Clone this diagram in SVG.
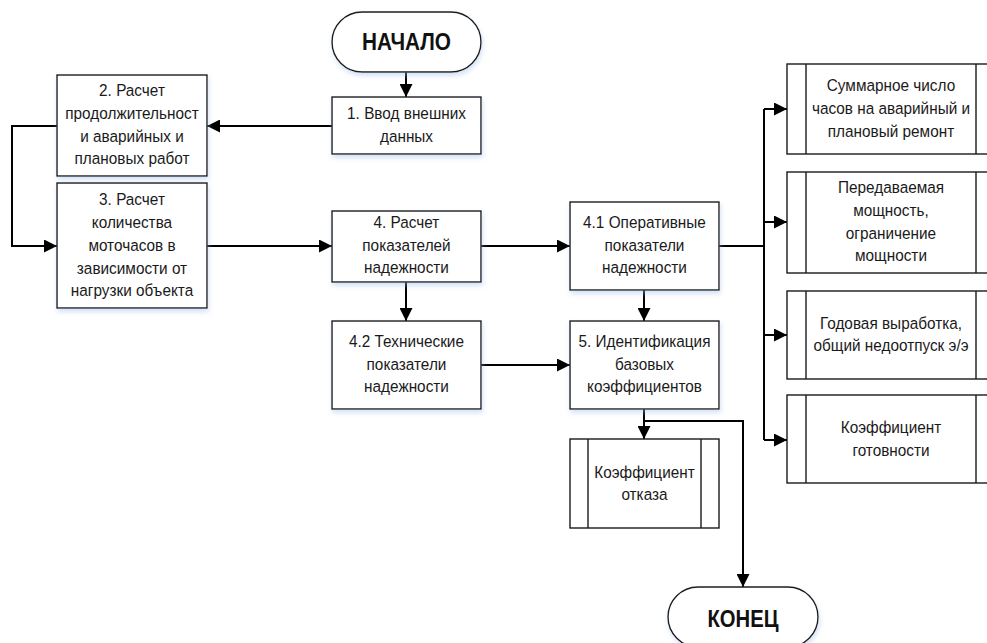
<svg xmlns="http://www.w3.org/2000/svg" width="987" height="643" viewBox="0 0 987 643">
  <defs>
    <style>
      .box { fill: #ffffff; stroke: #1a1a1a; stroke-width: 1.4; }
      .div { fill: none; stroke: #1a1a1a; stroke-width: 1.4; }
      .lbl { font-family: "Liberation Sans", Arial, sans-serif; font-size: 16.5px; fill: #1a1a1a; text-anchor: middle; }
      .term { font-family: "Liberation Sans", Arial, sans-serif; font-size: 24px; font-weight: bold; fill: #111111; text-anchor: middle; }
      .conn { fill: none; stroke: #000000; stroke-width: 2; }
    </style>
    <marker id="arrow" markerUnits="userSpaceOnUse" markerWidth="14" markerHeight="13" refX="13" refY="6.5" orient="auto">
      <path d="M0,0 L13,6.5 L0,13 Z" fill="#000000"/>
    </marker>
    <filter id="shadow" x="-10%" y="-10%" width="125%" height="135%">
      <feOffset in="SourceAlpha" dx="1" dy="3" result="off"/>
      <feGaussianBlur in="off" stdDeviation="2.5" result="blur"/>
      <feFlood flood-color="#9dbde6" flood-opacity="0.45"/>
      <feComposite in2="blur" operator="in" result="sh"/>
      <feMerge>
        <feMergeNode in="sh"/>
        <feMergeNode in="SourceGraphic"/>
      </feMerge>
    </filter>
  </defs>

  <rect width="987" height="643" fill="#ffffff"/>

  <!-- connectors -->
  <g id="connectors">
    <path class="conn" d="M406 72 V97" marker-end="url(#arrow)"/>
    <path class="conn" d="M332 126 H207" marker-end="url(#arrow)"/>
    <path class="conn" d="M57 126 H12 V246 H57" marker-end="url(#arrow)"/>
    <path class="conn" d="M207 246 H332" marker-end="url(#arrow)"/>
    <path class="conn" d="M406 282 V321" marker-end="url(#arrow)"/>
    <path class="conn" d="M481 246 H570" marker-end="url(#arrow)"/>
    <path class="conn" d="M644 290 V321" marker-end="url(#arrow)"/>
    <path class="conn" d="M481 365 H570" marker-end="url(#arrow)"/>
    <path class="conn" d="M644 409 V439" marker-end="url(#arrow)"/>
    <path class="conn" d="M644 421 H743 V587" marker-end="url(#arrow)"/>
    <path class="conn" d="M719 246 H764"/>
    <path class="conn" d="M764 109 V440"/>
    <path class="conn" d="M764 109 H787" marker-end="url(#arrow)"/>
    <path class="conn" d="M764 222 H787" marker-end="url(#arrow)"/>
    <path class="conn" d="M764 335 H787" marker-end="url(#arrow)"/>
    <path class="conn" d="M764 440 H787" marker-end="url(#arrow)"/>
  </g>

  <!-- start -->
  <g id="start">
    <rect class="box" x="332" y="12" width="149" height="60" rx="30" ry="30" filter="url(#shadow)"/>
    <text class="term" x="406.5" y="50" textLength="89" lengthAdjust="spacingAndGlyphs">НАЧАЛО</text>
  </g>

  <!-- step 1 -->
  <g id="n1">
    <rect class="box" x="332" y="97" width="149" height="57" filter="url(#shadow)"/>
    <g transform="matrix(0.93 0 0 1 28.455 0)">
      <text class="lbl" x="406.5" y="119.5">1. Ввод внешних</text>
      <text class="lbl" x="406.5" y="142">данных</text>
    </g>
  </g>

  <!-- step 2 -->
  <g id="n2">
    <rect class="box" x="57" y="75" width="150" height="101" filter="url(#shadow)"/>
    <g transform="matrix(0.93 0 0 1 9.24 0)">
      <text class="lbl" x="132" y="96.5">2. Расчет</text>
      <text class="lbl" x="132" y="119.5">продолжительност</text>
      <text class="lbl" x="132" y="142">и аварийных и</text>
      <text class="lbl" x="132" y="164.5">плановых работ</text>
    </g>
  </g>

  <!-- step 3 -->
  <g id="n3">
    <rect class="box" x="57" y="183" width="150" height="125" filter="url(#shadow)"/>
    <g transform="matrix(0.93 0 0 1 9.24 0)">
      <text class="lbl" x="132" y="205.5">3. Расчет</text>
      <text class="lbl" x="132" y="228.5">количества</text>
      <text class="lbl" x="132" y="251">моточасов в</text>
      <text class="lbl" x="132" y="274">зависимости от</text>
      <text class="lbl" x="132" y="296.5">нагрузки объекта</text>
    </g>
  </g>

  <!-- step 4 -->
  <g id="n4">
    <rect class="box" x="332" y="211" width="149" height="71" filter="url(#shadow)"/>
    <g transform="matrix(0.93 0 0 1 28.455 0)">
      <text class="lbl" x="406.5" y="228.5">4. Расчет</text>
      <text class="lbl" x="406.5" y="251.5">показателей</text>
      <text class="lbl" x="406.5" y="273.5">надежности</text>
    </g>
  </g>

  <!-- step 4.1 -->
  <g id="n41">
    <rect class="box" x="570" y="202" width="149" height="88" filter="url(#shadow)"/>
    <g transform="matrix(0.93 0 0 1 45.115 0)">
      <text class="lbl" x="644.5" y="228.5">4.1 Оперативные</text>
      <text class="lbl" x="644.5" y="251.5">показатели</text>
      <text class="lbl" x="644.5" y="273.5">надежности</text>
    </g>
  </g>

  <!-- step 4.2 -->
  <g id="n42">
    <rect class="box" x="332" y="321" width="149" height="88" filter="url(#shadow)"/>
    <g transform="matrix(0.93 0 0 1 28.455 0)">
      <text class="lbl" x="406.5" y="347.5">4.2 Технические</text>
      <text class="lbl" x="406.5" y="370.5">показатели</text>
      <text class="lbl" x="406.5" y="392.5">надежности</text>
    </g>
  </g>

  <!-- step 5 -->
  <g id="n5">
    <rect class="box" x="570" y="321" width="149" height="88" filter="url(#shadow)"/>
    <g transform="matrix(0.93 0 0 1 45.115 0)">
      <text class="lbl" x="644.5" y="347.5">5. Идентификация</text>
      <text class="lbl" x="644.5" y="370.5">базовых</text>
      <text class="lbl" x="644.5" y="392.5">коэффициентов</text>
    </g>
  </g>

  <!-- failure coefficient -->
  <g id="failure">
    <rect class="box" x="570" y="439" width="149" height="89"/>
    <path class="div" d="M588 439 V528 M701 439 V528"/>
    <g transform="matrix(0.93 0 0 1 45.115 0)">
      <text class="lbl" x="644.5" y="478">Коэффициент</text>
      <text class="lbl" x="644.5" y="500.5">отказа</text>
    </g>
  </g>

  <!-- operational outputs -->
  <g id="hours">
    <rect class="box" x="787" y="64" width="208" height="90"/>
    <path class="div" d="M806 64 V154 M976 64 V154"/>
    <g transform="matrix(0.93 0 0 1 62.37 0)">
      <text class="lbl" x="891" y="91.5">Суммарное число</text>
      <text class="lbl" x="891" y="114.5">часов на аварийный и</text>
      <text class="lbl" x="891" y="137">плановый ремонт</text>
    </g>
  </g>

  <g id="power">
    <rect class="box" x="787" y="172" width="208" height="101"/>
    <path class="div" d="M806 172 V273 M976 172 V273"/>
    <g transform="matrix(0.93 0 0 1 62.37 0)">
      <text class="lbl" x="891" y="193.5">Передаваемая</text>
      <text class="lbl" x="891" y="216.5">мощность,</text>
      <text class="lbl" x="891" y="239">ограничение</text>
      <text class="lbl" x="891" y="261.5">мощности</text>
    </g>
  </g>

  <g id="output">
    <rect class="box" x="787" y="291" width="208" height="88"/>
    <path class="div" d="M806 291 V379 M976 291 V379"/>
    <g transform="matrix(0.93 0 0 1 62.37 0)">
      <text class="lbl" x="891" y="329">Годовая выработка,</text>
      <text class="lbl" x="891" y="351.5">общий недоотпуск э/э</text>
    </g>
  </g>

  <g id="availability">
    <rect class="box" x="787" y="395" width="208" height="88"/>
    <path class="div" d="M806 395 V483 M976 395 V483"/>
    <g transform="matrix(0.93 0 0 1 62.37 0)">
      <text class="lbl" x="891" y="433">Коэффициент</text>
      <text class="lbl" x="891" y="456">готовности</text>
    </g>
  </g>

  <!-- end -->
  <g id="end">
    <rect class="box" x="668" y="587" width="150" height="60" rx="30" ry="30" filter="url(#shadow)"/>
    <text class="term" x="743" y="627" textLength="71" lengthAdjust="spacingAndGlyphs">КОНЕЦ</text>
  </g>
</svg>
